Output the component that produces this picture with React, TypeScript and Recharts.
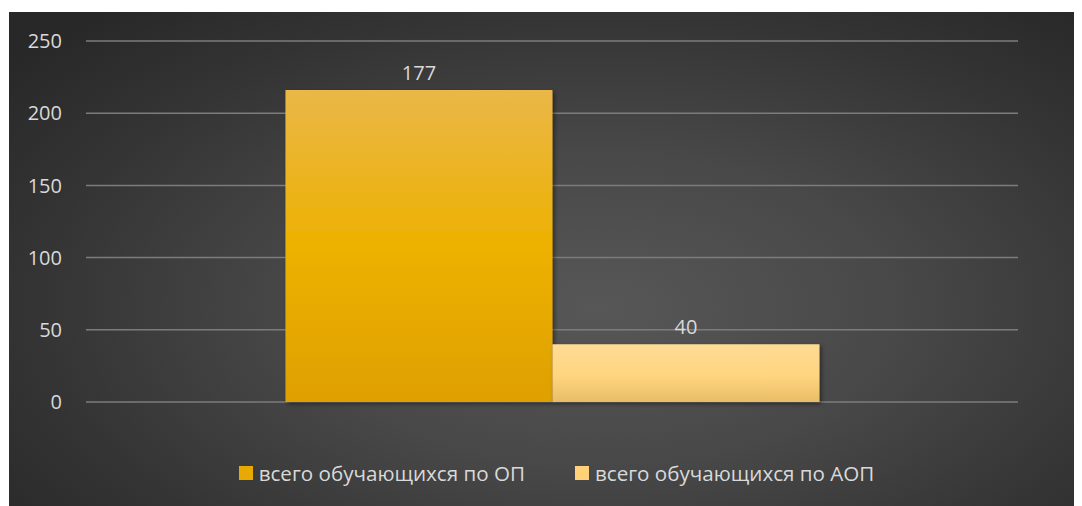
import React from "react";
import { BarChart, Bar, XAxis, YAxis, CartesianGrid, Legend, LabelList } from "recharts";

const categories = ["Всего"];
const seriesNames = ["всего обучающихся по ОП", "всего обучающихся по АОП"];
const opValues = [216];
const aopValues = [40];
const opLabels = ["177"];
const aopLabels = ["40"];
const yTicks = [0, 50, 100, 150, 200, 250];
const legendColors = ["#e8a900", "#ffd27a"];

const data = categories.map((c, i) => ({
  name: c,
  op: opValues[i],
  aop: aopValues[i],
  opLabel: opLabels[i],
  aopLabel: aopLabels[i],
}));

const FONT = "'Open Sans', 'Noto Sans', sans-serif";
const TEXT = "#d9d9d9";

const LegendContent = () => (
  <div
    style={{
      display: "flex",
      justifyContent: "center",
      alignItems: "center",
      height: 28,
      fontSize: 20.6,
      fontFamily: FONT,
      color: TEXT,
      marginLeft: 22,
    }}
  >
    {seriesNames.map((n, i) => (
      <div key={n} style={{ display: "flex", alignItems: "center", marginRight: i === 0 ? 50 : 0 }}>
        <span
          style={{
            display: "inline-block",
            width: 14,
            height: 14,
            background: legendColors[i],
            marginRight: 6,
          }}
        />
        <span>{n}</span>
      </div>
    ))}
  </div>
);

export default function App() {
  return (
    <div
      style={{
        marginLeft: 1,
        marginTop: 4,
        width: 1073,
        height: 494,
        background:
          "radial-gradient(ellipse 70% 80% at 55% 60%, #575757 0%, #484848 40%, #343434 75%, #282828 100%)",
        fontFamily: FONT,
      }}
    >
      <BarChart
        width={1073}
        height={494}
        data={data}
        margin={{ top: 29, right: 64, bottom: 76, left: 0 }}
        barCategoryGap="21.4%"
        barGap={0}
      >
        <defs>
          <linearGradient id="gOp" x1="0" y1="0" x2="0" y2="1">
            <stop offset="0%" stopColor="#eab748" />
            <stop offset="50%" stopColor="#edb100" />
            <stop offset="100%" stopColor="#dfa000" />
          </linearGradient>
          <linearGradient id="gAop" x1="0" y1="0" x2="0" y2="1">
            <stop offset="0%" stopColor="#ffdb94" />
            <stop offset="55%" stopColor="#ffd580" />
            <stop offset="100%" stopColor="#e8bd66" />
          </linearGradient>
          <filter id="shadow" x="-5%" y="-5%" width="115%" height="115%">
            <feDropShadow dx="2" dy="2" stdDeviation="2" floodColor="#000" floodOpacity="0.45" />
          </filter>
        </defs>
        <CartesianGrid vertical={false} stroke="#7c7c7c" strokeWidth={1.5} />
        <XAxis dataKey="name" hide />
        <YAxis
          domain={[0, 250]}
          ticks={yTicks}
          width={77}
          axisLine={false}
          tickLine={false}
          tickSize={0}
          tickMargin={24}
          tick={{ fill: TEXT, fontSize: 20, fontFamily: FONT }}
        />
        <Legend
          verticalAlign="bottom"
          content={<LegendContent />}
          wrapperStyle={{ top: 447, left: 0, width: 1073, height: 28 }}
        />
        <Bar
          dataKey="op"
          name={seriesNames[0]}
          fill="url(#gOp)"
          isAnimationActive={false}
          filter="url(#shadow)"
        >
          <LabelList dataKey="opLabel" position="top" offset={10} fill={TEXT} fontSize={20} fontFamily={FONT} />
        </Bar>
        <Bar
          dataKey="aop"
          name={seriesNames[1]}
          fill="url(#gAop)"
          isAnimationActive={false}
          filter="url(#shadow)"
        >
          <LabelList dataKey="aopLabel" position="top" offset={10} fill={TEXT} fontSize={20} fontFamily={FONT} />
        </Bar>
      </BarChart>
    </div>
  );
}
